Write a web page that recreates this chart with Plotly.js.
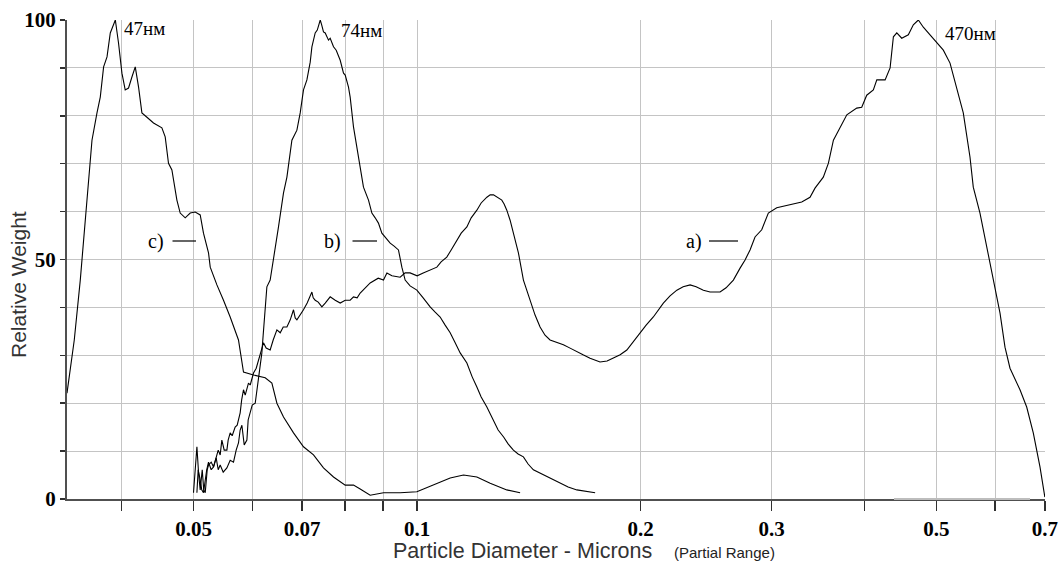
<!DOCTYPE html>
<html>
<head>
<meta charset="utf-8">
<script src="https://cdn.plot.ly/plotly-3.0.1.min.js"></script>
<style>html,body{margin:0;padding:0;background:#fff;}#chart{width:1060px;height:564px;}</style>
</head>
<body>
<div id="chart"></div>
<script>
// Particle diameter (microns) and relative weight for each sample
const cX = [0.03378,0.0343,0.03455,0.0352,0.03594,0.0365,0.03707,0.03745,0.03784,0.03824,0.03863,0.03924,0.03963,0.04005,0.04046,0.04088,0.04131,0.04174,0.04217,0.04261,0.04328,0.04417,0.04533,0.0458,0.04627,0.04676,0.04749,0.04798,0.04873,0.04949,0.05026,0.05105,0.05157,0.05238,0.05266,0.05376,0.05487,0.05602,0.05748,0.05838,0.06022,0.06244,0.06375,0.06475,0.06609,0.06817,0.07031,0.07253,0.07481,0.07717,0.08002,0.0821,0.08382,0.08646,0.0901,0.09488,0.09992,0.10519,0.11079,0.11546,0.12035,0.12542,0.13205,0.13761];
const cY = [22.1,29.0,33.2,45.7,62.4,74.9,80.6,83.9,90.2,92.3,97.3,100,95.2,88.9,85.4,85.8,88.1,90.2,86.0,80.6,79.7,78.5,77.5,75.6,70.1,68.7,62.4,59.7,58.7,59.7,59.9,59.3,55.5,51.4,48.4,44.7,41.5,38.0,33.2,26.5,25.9,25.3,24.2,20.0,17.1,13.8,10.9,9.2,6.5,4.6,2.9,2.9,2.1,0.8,1.3,1.3,1.5,2.9,4.4,5.0,4.6,3.3,1.9,1.3];

const bX = [0.05,0.05034,0.05053,0.05081,0.05105,0.05137,0.05161,0.05185,0.05217,0.05238,0.05282,0.0532,0.05364,0.05398,0.05431,0.05482,0.05545,0.05602,0.0566,0.05707,0.05748,0.05778,0.05809,0.05851,0.059,0.05923,0.05961,0.05998,0.06054,0.06091,0.06116,0.06148,0.0618,0.06205,0.06244,0.06277,0.06341,0.06407,0.06507,0.06609,0.06679,0.06783,0.06832,0.06889,0.0696,0.07031,0.07106,0.07179,0.07217,0.07291,0.07338,0.07406,0.07439,0.07481,0.07521,0.07598,0.07638,0.07717,0.07782,0.07879,0.0796,0.08002,0.08084,0.08126,0.0821,0.08338,0.08468,0.08601,0.08692,0.08781,0.0887,0.08965,0.09086,0.09199,0.09312,0.09438,0.09538,0.09636,0.09785,0.09992,0.10189,0.10412,0.10575,0.1074,0.10908,0.11079,0.11252,0.11428,0.11668,0.11861,0.12035,0.12196,0.12414,0.12671,0.12855,0.13082,0.13258,0.13478,0.13676,0.13903,0.14106,0.14338,0.14642,0.1495,0.15246,0.15579,0.15971,0.16409,0.16835,0.17364];
const bY = [1.3,8.1,10.9,5.0,1.9,6.1,1.9,1.3,6.1,7.1,7.7,6.7,8.6,6.1,7.1,5.6,6.5,8.1,7.7,10.2,11.7,14.4,15.4,11.3,12.3,16.5,18.0,19.6,20.0,22.8,24.8,28.0,30.5,34.2,38.8,44.3,45.7,49.9,56.8,63.9,67.2,74.9,76.0,77.0,80.6,85.4,87.5,91.2,94.4,97.3,97.9,100,99.0,97.5,97.3,95.8,96.2,94.4,93.7,91.6,88.9,88.5,86.0,83.9,77.7,71.4,65.1,62.4,59.7,58.7,57.6,55.5,54.5,53.4,52.8,52.0,48.4,45.7,44.5,43.6,42.0,40.1,39.0,38.0,36.3,34.7,32.6,30.5,28.4,25.5,23.4,21.3,19.2,16.5,14.4,12.9,11.5,10.2,9.4,8.8,7.3,6.1,5.4,4.6,4.0,3.3,2.5,1.9,1.7,1.3];

const aX = [0.05053,0.05073,0.05105,0.05129,0.05157,0.05185,0.05209,0.05238,0.05282,0.0532,0.05364,0.05398,0.05431,0.05459,0.05499,0.05545,0.05567,0.05602,0.05637,0.05689,0.05725,0.05778,0.05805,0.05838,0.05869,0.05929,0.05961,0.06022,0.06073,0.06116,0.06165,0.06211,0.06263,0.06341,0.06401,0.06475,0.06542,0.06603,0.06679,0.06748,0.06817,0.06853,0.06889,0.0696,0.07031,0.07112,0.07217,0.07246,0.07291,0.0736,0.07444,0.07521,0.07638,0.07758,0.07879,0.08002,0.08126,0.0821,0.08304,0.08382,0.08513,0.08646,0.08864,0.0901,0.09106,0.09248,0.09488,0.09636,0.09785,0.10001,0.10191,0.10412,0.10631,0.10772,0.10963,0.11113,0.11311,0.11464,0.11668,0.11824,0.12035,0.12196,0.12414,0.12542,0.12671,0.12817,0.13002,0.13095,0.13205,0.13341,0.13478,0.13689,0.13903,0.14195,0.14414,0.14639,0.14867,0.151,0.1538,0.15737,0.16067,0.16404,0.16726,0.17093,0.17631,0.1802,0.18378,0.18764,0.19157,0.19535,0.19963,0.20338,0.20798,0.21104,0.21453,0.21903,0.2237,0.22811,0.23311,0.23749,0.24287,0.24797,0.25578,0.26058,0.26654,0.27213,0.27638,0.28067,0.28505,0.29103,0.29705,0.3049,0.31773,0.32946,0.33801,0.34329,0.35224,0.35786,0.36344,0.37107,0.37886,0.39069,0.39678,0.40298,0.41131,0.41577,0.4266,0.43326,0.43771,0.44235,0.44917,0.45845,0.46561,0.47288,0.48027,0.49036,0.50064,0.51099,0.52172,0.53259,0.54359,0.555,0.56071,0.57247,0.58455,0.59663,0.60915,0.61862,0.62828,0.64805,0.66165,0.67532,0.68949,0.7];
const aY = [1.3,6.1,4.0,1.9,1.3,4.4,6.1,7.7,6.1,6.7,8.6,10.2,9.2,12.3,10.2,10.2,12.3,13.8,13.2,15.0,15.4,18.0,20.7,22.8,21.7,24.2,23.8,26.3,27.3,29.0,31.1,32.6,31.5,31.1,33.2,35.3,34.7,35.9,35.9,37.4,39.5,37.8,37.4,38.4,39.5,40.9,43.2,42.0,41.5,41.1,40.1,40.9,42.2,41.5,40.9,41.5,41.5,42.2,42.0,43.0,44.1,45.1,46.1,45.7,47.2,46.6,46.3,47.2,47.2,46.6,47.2,47.8,48.4,49.5,50.5,52.0,54.1,55.5,56.8,58.7,60.3,61.8,63.0,63.5,63.5,63.0,62.4,61.6,60.3,58.2,55.5,51.4,45.7,41.5,38.4,35.9,34.2,33.2,32.8,32.2,31.5,30.7,30.1,29.4,28.6,28.8,29.4,30.1,31.1,32.8,34.7,36.3,38.0,39.5,40.9,42.4,43.6,44.3,44.7,44.3,43.6,43.2,43.2,44.1,45.7,48.2,49.9,52.0,54.7,56.2,59.7,60.8,61.4,62.0,63.0,64.9,67.2,70.1,74.9,77.5,80.2,81.6,81.8,84.3,85.4,87.5,87.5,90.0,96.5,97.3,96.2,96.9,99.0,100,98.5,96.9,95.4,93.7,91.0,86.0,80.6,71.4,65.1,59.7,52.6,46.3,38.8,31.7,27.3,22.8,19.2,13.8,6.7,0.4];

const xTickVals = [0.04,0.05,0.06,0.07,0.08,0.09,0.1,0.2,0.3,0.4,0.5,0.6,0.7];
const xTickText = ['','0.05','','0.07','','','0.1','0.2','0.3','','0.5','','0.7'];
const yTickVals = [0,10,20,30,40,50,60,70,80,90,100];
const yTickText = ['0','','','','','50','','','','','100'];

const seriesLabels = ['a)','b)','c)'];
const peakLabels = ['470нм','74нм','47нм'];
const xTitle = 'Particle Diameter - Microns';
const xSubTitle = '(Partial Range)';
const yTitle = 'Relative Weight';

const lineStyle = {color:'#000', width:1.1};
const traces = [
  {x:aX, y:aY, type:'scatter', mode:'lines', line:lineStyle, name:'a)'},
  {x:bX, y:bY, type:'scatter', mode:'lines', line:lineStyle, name:'b)'},
  {x:cX, y:cY, type:'scatter', mode:'lines', line:lineStyle, name:'c)'}
];

const serif = 'Liberation Serif, Times New Roman, serif';
const sans = 'Liberation Sans, Arial, sans-serif';

function px2x(p){ return (p-67)/978; }
function px2y(p){ return (499-p)/479; }

const annotations = [
  {text:peakLabels[2], x:px2x(122), y:px2y(29), xref:'paper', yref:'paper', xanchor:'left', yanchor:'middle', showarrow:false, font:{family:serif,size:19,color:'#000'}},
  {text:peakLabels[1], x:px2x(339), y:px2y(30), xref:'paper', yref:'paper', xanchor:'left', yanchor:'middle', showarrow:false, font:{family:serif,size:19,color:'#000'}},
  {text:peakLabels[0], x:px2x(943), y:px2y(34), xref:'paper', yref:'paper', xanchor:'left', yanchor:'middle', showarrow:false, font:{family:serif,size:19,color:'#000'}},
  {text:seriesLabels[2], x:px2x(146), y:px2y(241), xref:'paper', yref:'paper', xanchor:'left', yanchor:'middle', showarrow:false, font:{family:serif,size:20,color:'#000'}},
  {text:seriesLabels[1], x:px2x(322), y:px2y(241), xref:'paper', yref:'paper', xanchor:'left', yanchor:'middle', showarrow:false, font:{family:serif,size:20,color:'#000'}},
  {text:seriesLabels[0], x:px2x(684), y:px2y(241), xref:'paper', yref:'paper', xanchor:'left', yanchor:'middle', showarrow:false, font:{family:serif,size:20,color:'#000'}},
  {text:xTitle, x:px2x(522), y:px2y(551), xref:'paper', yref:'paper', xanchor:'center', yanchor:'middle', showarrow:false, font:{family:sans,size:21.5,color:'#333'}},
  {text:xSubTitle, x:px2x(672), y:px2y(552), xref:'paper', yref:'paper', xanchor:'left', yanchor:'middle', showarrow:false, font:{family:sans,size:15,color:'#222'}},
  {text:yTitle, x:px2x(18), y:px2y(285), xref:'paper', yref:'paper', xanchor:'center', yanchor:'middle', textangle:-90, showarrow:false, font:{family:sans,size:21,color:'#333'}}
];

const shapes = [
  {type:'rect', xref:'paper', yref:'paper', x0:px2x(98), x1:px2x(172), y0:px2y(23), y1:px2y(15), fillcolor:'#fff', line:{width:0}, layer:'between'},
  {type:'rect', xref:'paper', yref:'paper', x0:px2x(337), x1:px2x(388), y0:px2y(45), y1:px2y(15), fillcolor:'#fff', line:{width:0}, layer:'between'},
  {type:'rect', xref:'paper', yref:'paper', x0:px2x(939), x1:px2x(1030), y0:px2y(50), y1:px2y(22), fillcolor:'#fff', line:{width:0}, layer:'between'},
  {type:'line', xref:'paper', yref:'paper', x0:px2x(172.5), x1:px2x(196), y0:px2y(241), y1:px2y(241), line:{color:'#000', width:1.2}},
  {type:'line', xref:'paper', yref:'paper', x0:px2x(352.5), x1:px2x(377), y0:px2y(241), y1:px2y(241), line:{color:'#000', width:1.2}},
  {type:'line', xref:'paper', yref:'paper', x0:px2x(709), x1:px2x(738), y0:px2y(241), y1:px2y(241), line:{color:'#000', width:1.2}},
  {type:'line', xref:'paper', yref:'paper', x0:px2x(894), x1:px2x(1030), y0:0, y1:0, line:{color:'#bdbdbd', width:2.2}, layer:'above'}
];

const layout = {
  width:1060, height:564, autosize:false,
  margin:{l:67, r:15, t:20, b:65, pad:0},
  paper_bgcolor:'#fff', plot_bgcolor:'#fff',
  showlegend:false,
  xaxis:{
    type:'log', range:[Math.log10(0.03378), Math.log10(0.7003)],
    tickmode:'array', tickvals:xTickVals, ticktext:xTickText,
    ticks:'outside', ticklen:10, tickwidth:1.5, tickcolor:'#303030',
    showgrid:true, gridcolor:'#c4c4c4', gridwidth:1,
    showline:true, linecolor:'#505050', linewidth:2,
    zeroline:false,
    tickfont:{family:serif, size:21, color:'#000', weight:'bold'}
  },
  yaxis:{
    range:[0,100],
    tickmode:'array', tickvals:yTickVals, ticktext:yTickText,
    ticks:'outside', ticklen:5, tickwidth:1.5, tickcolor:'#303030',
    showgrid:true, gridcolor:'#c4c4c4', gridwidth:1,
    showline:true, linecolor:'#505050', linewidth:2,
    zeroline:false,
    tickfont:{family:serif, size:21, color:'#000', weight:'bold'}
  },
  annotations:annotations,
  shapes:shapes
};

Plotly.newPlot('chart', traces, layout, {displayModeBar:false, staticPlot:true});
</script>
</body>
</html>
